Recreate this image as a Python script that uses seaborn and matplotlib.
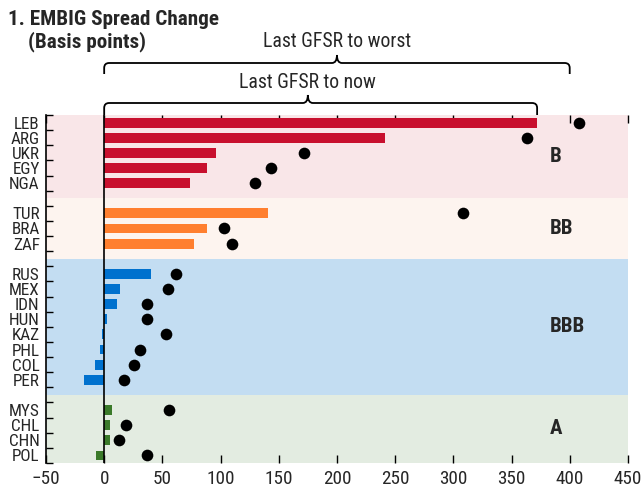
import numpy as np
import pandas as pd
import seaborn as sns
import matplotlib.pyplot as plt
from matplotlib import font_manager
from matplotlib.path import Path
from matplotlib.patches import PathPatch
from matplotlib.ticker import FixedLocator
from matplotlib.transforms import blended_transform_factory

countries = ["LEB", "ARG", "UKR", "EGY", "NGA",
             "TUR", "BRA", "ZAF",
             "RUS", "MEX", "IDN", "HUN", "KAZ", "PHL", "COL", "PER",
             "MYS", "CHL", "CHN", "POL"]
ratings = ["B"] * 5 + ["BB"] * 3 + ["BBB"] * 8 + ["A"] * 4
last_to_now = [372, 241, 96, 88, 74,
               141, 88, 77,
               40, 14, 11, 2, -1.5, -4, -8, -17,
               7, 5, 5, -7]
last_to_worst = [408, 363, 172, 143, 130,
                 308, 103, 110,
                 62, 55, 37, 37, 53, 31, 26, 17,
                 56, 19, 13, 37]
groups = ["B", "BB", "BBB", "A"]
bar_colors = {"B": "#C8102E", "BB": "#FF7F2F", "BBB": "#0071CE", "A": "#3B7A2A"}
band_colors = {"B": "#F9E6E8", "BB": "#FDF4EF", "BBB": "#C3DDF2", "A": "#E3ECE1"}

df = pd.DataFrame({"country": countries, "rating": ratings,
                   "now": last_to_now, "worst": last_to_worst})

# category order with an empty slot between rating groups
order = []
for i, g in enumerate(groups):
    order += df.loc[df.rating == g, "country"].tolist()
    if i < len(groups) - 1:
        order.append(" " * (i + 1))
pos = {c: i for i, c in enumerate(order)}

sns.set_style("ticks")
installed = {f.name for f in font_manager.fontManager.ttflist}
fams = [f for f in ["Roboto Condensed", "Liberation Sans Narrow", "Roboto"] if f in installed]
plt.rcParams["font.family"] = fams + ["DejaVu Sans"]

fig = plt.figure(figsize=(6.44, 4.96), dpi=100)
ax = fig.add_axes([0.0714, 0.0665, 0.9036, 0.7016])

sns.barplot(data=df, x="now", y="country", hue="rating", palette=bar_colors,
            order=order, orient="h", dodge=False, width=0.65, legend=False,
            saturation=1, linewidth=0, ax=ax, zorder=2)
sns.stripplot(data=df, x="worst", y="country", order=order, orient="h",
              jitter=False, color="black", size=8.4, linewidth=0, ax=ax, zorder=3)

# rating bands
for i, g in enumerate(groups):
    idx = [pos[c] for c in df.loc[df.rating == g, "country"]]
    lo = min(idx) - 1 if i > 0 else min(idx) - 0.5
    hi = max(idx) + 1 if i < len(groups) - 1 else max(idx) + 0.5
    ax.axhspan(lo, hi, color=band_colors[g], lw=0, zorder=0)
    ax.text(383, (lo + hi) / 2, g, fontsize=15, fontweight="bold",
            ha="left", va="center", zorder=4)

ax.axvline(0, color="black", lw=1.2, zorder=4)
ax.set_xlim(-50, 450)
ax.set_ylim(len(order) - 0.5, -0.5)
ax.set_xticks(np.arange(-50, 451, 50))
ax.set_xlabel("")
ax.set_ylabel("")

ax.yaxis.set_minor_locator(FixedLocator(np.arange(-0.5, len(order), 1.0)))
ax.tick_params(axis="y", which="major", length=0, pad=4.5, labelsize=12.3)
ax.tick_params(axis="y", which="minor", direction="in", length=5.3, width=1, color="black")
ax.tick_params(axis="x", which="major", direction="in", top=True, bottom=True,
               length=5.5, width=1, color="black", labelsize=13.8, pad=5)
for s in ["top", "right", "bottom"]:
    ax.spines[s].set_visible(False)
ax.spines["left"].set_linewidth(1.2)
ax.spines["left"].set_color("black")


def draw_brace(x0, x1, xm, y_line, y_end, label, y_text):
    tr = blended_transform_factory(ax.transData, fig.transFigure)
    rx = 4.3
    ry = 5 / 496
    verts = [(x0, y_end), (x0, y_line - ry), (x0, y_line), (x0 + rx, y_line),
             (xm - rx, y_line), (xm, y_line), (xm, y_line + 1.6 * ry),
             (xm, y_line), (xm + rx, y_line),
             (x1 - rx, y_line), (x1, y_line), (x1, y_line - ry), (x1, y_end)]
    codes = [Path.MOVETO, Path.LINETO, Path.CURVE3, Path.CURVE3,
             Path.LINETO, Path.CURVE3, Path.CURVE3,
             Path.CURVE3, Path.CURVE3,
             Path.LINETO, Path.CURVE3, Path.CURVE3, Path.LINETO]
    patch = PathPatch(Path(verts, codes), transform=tr, fill=False,
                      lw=1.3, edgecolor="black", clip_on=False)
    fig.add_artist(patch)
    fig.text(xm, y_text, label, transform=tr, ha="center", va="baseline", fontsize=14.2)


draw_brace(0, 400, 200, 1 - 63 / 496, 1 - 74 / 496, "Last GFSR to worst", 1 - 47 / 496)
draw_brace(0, max(last_to_now), 175, 1 - 103 / 496, 1 - 115 / 496, "Last GFSR to now", 1 - 88 / 496)

fig.text(8 / 644, 1 - 25 / 496, "1. EMBIG Spread Change", fontsize=15.2,
         fontweight="bold", va="baseline")
fig.text(28 / 644, 1 - 47 / 496, "(Basis points)", fontsize=15.2,
         fontweight="bold", va="baseline")

plt.savefig("out.png", dpi=100)
